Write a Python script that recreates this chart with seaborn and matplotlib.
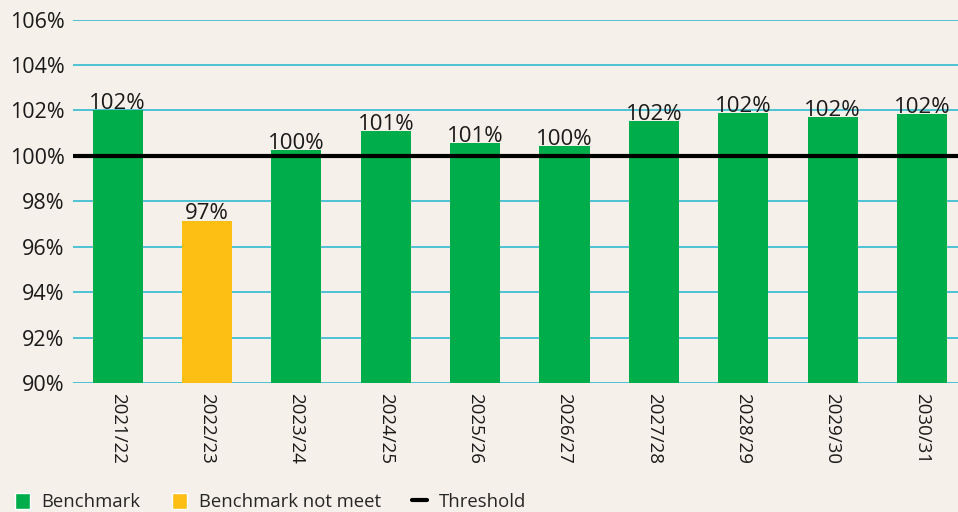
import matplotlib
matplotlib.use("Agg")
import matplotlib.pyplot as plt
import seaborn as sns
import pandas as pd
from matplotlib.patches import Patch
from matplotlib.lines import Line2D

years = ["2021/22", "2022/23", "2023/24", "2024/25", "2025/26",
         "2026/27", "2027/28", "2028/29", "2029/30", "2030/31"]
values = [102.0, 97.13, 100.24, 101.08, 100.55, 100.42, 101.52, 101.87, 101.69, 101.82]
status = ["Benchmark", "Benchmark not meet", "Benchmark", "Benchmark", "Benchmark",
          "Benchmark", "Benchmark", "Benchmark", "Benchmark", "Benchmark"]
threshold = 100
yticks = [90, 92, 94, 96, 98, 100, 102, 104, 106]

BG = "#f6f0ea"
GREEN = "#00ad4b"
YELLOW = "#fdbf13"
GRID = "#3fc0d2"

sns.set_theme(style="white")
plt.rcParams["font.family"] = ["Open Sans", "DejaVu Sans"]

df = pd.DataFrame({"year": years, "value": values, "status": status})

fig = plt.figure(figsize=(9.58, 5.12), dpi=100, facecolor=BG)
ax = fig.add_axes([73/958, 1-383/512, (966.6-73)/958, (383-19.5)/512])
ax.set_facecolor(BG)

sns.barplot(data=df, x="year", y="value", hue="status",
            palette={"Benchmark": GREEN, "Benchmark not meet": YELLOW},
            dodge=False, width=0.56, legend=False, ax=ax, zorder=3,
            saturation=1, linewidth=0)

ax.set_ylim(90, 106)
ax.set_xlim(-0.5, len(years) - 0.5)
ax.set_yticks(yticks)
ax.set_yticklabels([f"{t}%" for t in yticks])
for t in yticks:
    if t != threshold:
        ax.axhline(t, color=GRID, lw=1.3, zorder=1)
ax.axhline(threshold, color="black", lw=3, zorder=4)

for i, v in enumerate(values):
    ax.annotate(f"{round(v):.0f}%", (i, v), xytext=(0, -2.5), textcoords="offset points",
                ha="center", va="bottom", fontsize=16, color="#1a1a1a", zorder=5)

ax.set_xlabel("")
ax.set_ylabel("")
for s in ax.spines.values():
    s.set_visible(False)
ax.tick_params(axis="y", length=0, pad=6, labelsize=15.5, labelcolor="#1a1a1a")
ax.tick_params(axis="x", length=0, pad=7, labelsize=13.5, labelcolor="#1a1a1a")
for lab in ax.get_xticklabels():
    lab.set_rotation(270)
    lab.set_va("top")
    lab.set_ha("center")

handles = [Patch(facecolor=GREEN, label="Benchmark"),
           Patch(facecolor=YELLOW, label="Benchmark not meet"),
           Line2D([0], [0], color="black", lw=3, label="Threshold")]
fig.legend(handles=handles, loc="lower left", bbox_to_anchor=(0.004, -0.02), ncol=3,
           frameon=False, fontsize=13.3, handlelength=0.8, handleheight=1.0,
           handletextpad=0.65, columnspacing=1.7, borderaxespad=0.2)

fig.savefig("out.png", dpi=100, facecolor=BG)
